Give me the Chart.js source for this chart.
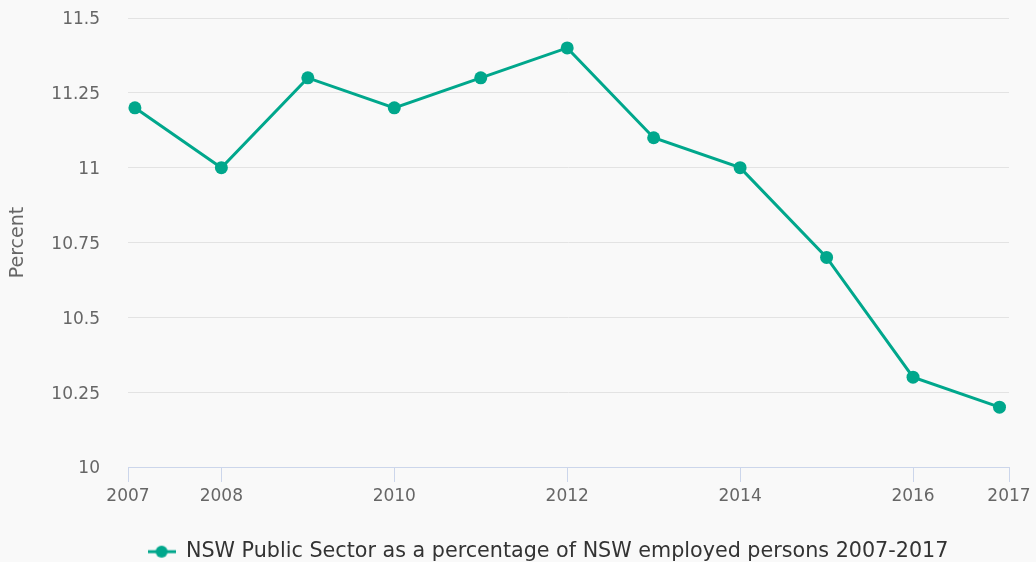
<!DOCTYPE html>
<html>
<head>
<meta charset="utf-8">
<script src="https://cdn.jsdelivr.net/npm/chart.js@4.4.0/dist/chart.umd.min.js"></script>
<style>
  html, body { margin: 0; padding: 0; background: #f9f9f9; }
  #wrap { width: 1036px; height: 562px; }
</style>
</head>
<body>
<div id="wrap"><canvas id="myChart"></canvas></div>
<script>
const years = [2007, 2008, 2009, 2010, 2011, 2012, 2013, 2014, 2015, 2016, 2017];
const percent = [11.2, 11.0, 11.3, 11.2, 11.3, 11.4, 11.1, 11.0, 10.7, 10.3, 10.2];
// first and last tick sit on the axis ends, not exactly on the years
const xTicks = [2006.92, 2008, 2010, 2012, 2014, 2016, 2017.11];
const xTickLabels = ['2007', '2008', '2010', '2012', '2014', '2016', '2017'];
const yTicks = [10, 10.25, 10.5, 10.75, 11, 11.25, 11.5];
const seriesLabel = 'NSW Public Sector as a percentage of NSW employed persons 2007-2017';

const teal = '#00a78c';
const fontFamily = '"DejaVu Sans", Verdana, sans-serif';

// legend symbol: short line with a dot in the middle
const legendIcon = document.createElement('canvas');
legendIcon.width = 28;
legendIcon.height = 14;
const ic = legendIcon.getContext('2d');
ic.strokeStyle = teal;
ic.lineWidth = 3;
ic.beginPath();
ic.moveTo(0, 7);
ic.lineTo(28, 7);
ic.stroke();
ic.fillStyle = teal;
ic.beginPath();
ic.arc(14, 7, 6, 0, Math.PI * 2);
ic.fill();

// move the legend a bit right and down, like the original
const legendShift = {
    id: 'legendShift',
    afterLayout(chart) {
        const lg = chart.legend;
        const dx = 548 - (lg.left + lg.right) / 2;
        lg.left += dx;
        lg.right += dx;
        lg.top += 10;
        lg.bottom += 10;
    }
};

new Chart(document.getElementById('myChart').getContext('2d'), {
    type: 'line',
    data: {
        datasets: [{
            label: seriesLabel,
            data: years.map((y, i) => ({ x: y, y: percent[i] })),
            borderColor: teal,
            backgroundColor: teal,
            borderWidth: 3,
            pointRadius: 6.5,
            pointBorderWidth: 0,
            pointHoverRadius: 6.5,
            tension: 0
        }]
    },
    options: {
        responsive: true,
        maintainAspectRatio: false,
        devicePixelRatio: 1,
        animation: false,
        layout: { padding: { top: 18, right: 27, left: 0, bottom: 0 } },
        plugins: {
            tooltip: { enabled: false },
            legend: {
                position: 'bottom',
                labels: {
                    usePointStyle: true,
                    pointStyleWidth: 28,
                    padding: 6,
                    color: '#333333',
                    font: { family: fontFamily, size: 20.7 },
                    generateLabels: chart => Chart.defaults.plugins.legend.labels.generateLabels(chart)
                        .map(l => ({ ...l, pointStyle: legendIcon }))
                }
            }
        },
        scales: {
            x: {
                type: 'linear',
                min: xTicks[0],
                max: xTicks[xTicks.length - 1],
                afterBuildTicks: s => { s.ticks = xTicks.map(v => ({ value: v })); },
                afterFit: s => { s.height = 58.3; },
                ticks: {
                    autoSkip: false,
                    maxRotation: 0,
                    padding: 4,
                    color: '#666666',
                    font: { family: fontFamily, size: 17 },
                    callback: (v, i) => xTickLabels[i]
                },
                grid: { drawOnChartArea: false, tickLength: 15, color: '#ccd6eb' },
                border: { color: '#ccd6eb' }
            },
            y: {
                min: 10,
                max: 11.5,
                afterBuildTicks: s => { s.ticks = yTicks.map(v => ({ value: v })); },
                afterFit: s => { s.width = 128; },
                ticks: {
                    padding: 4,
                    labelOffset: 2,
                    color: '#666666',
                    font: { family: fontFamily, size: 17 },
                    callback: v => String(v)
                },
                // invisible tick marks keep the labels away from the plot
                grid: { color: '#e3e3e3', tickLength: 24, tickColor: 'rgba(0,0,0,0)' },
                border: { display: false },
                title: {
                    display: true,
                    text: 'Percent',
                    color: '#666666',
                    font: { family: fontFamily, size: 19 },
                    padding: { top: 7, bottom: 0 }
                }
            }
        }
    },
    plugins: [legendShift]
});
</script>
</body>
</html>
